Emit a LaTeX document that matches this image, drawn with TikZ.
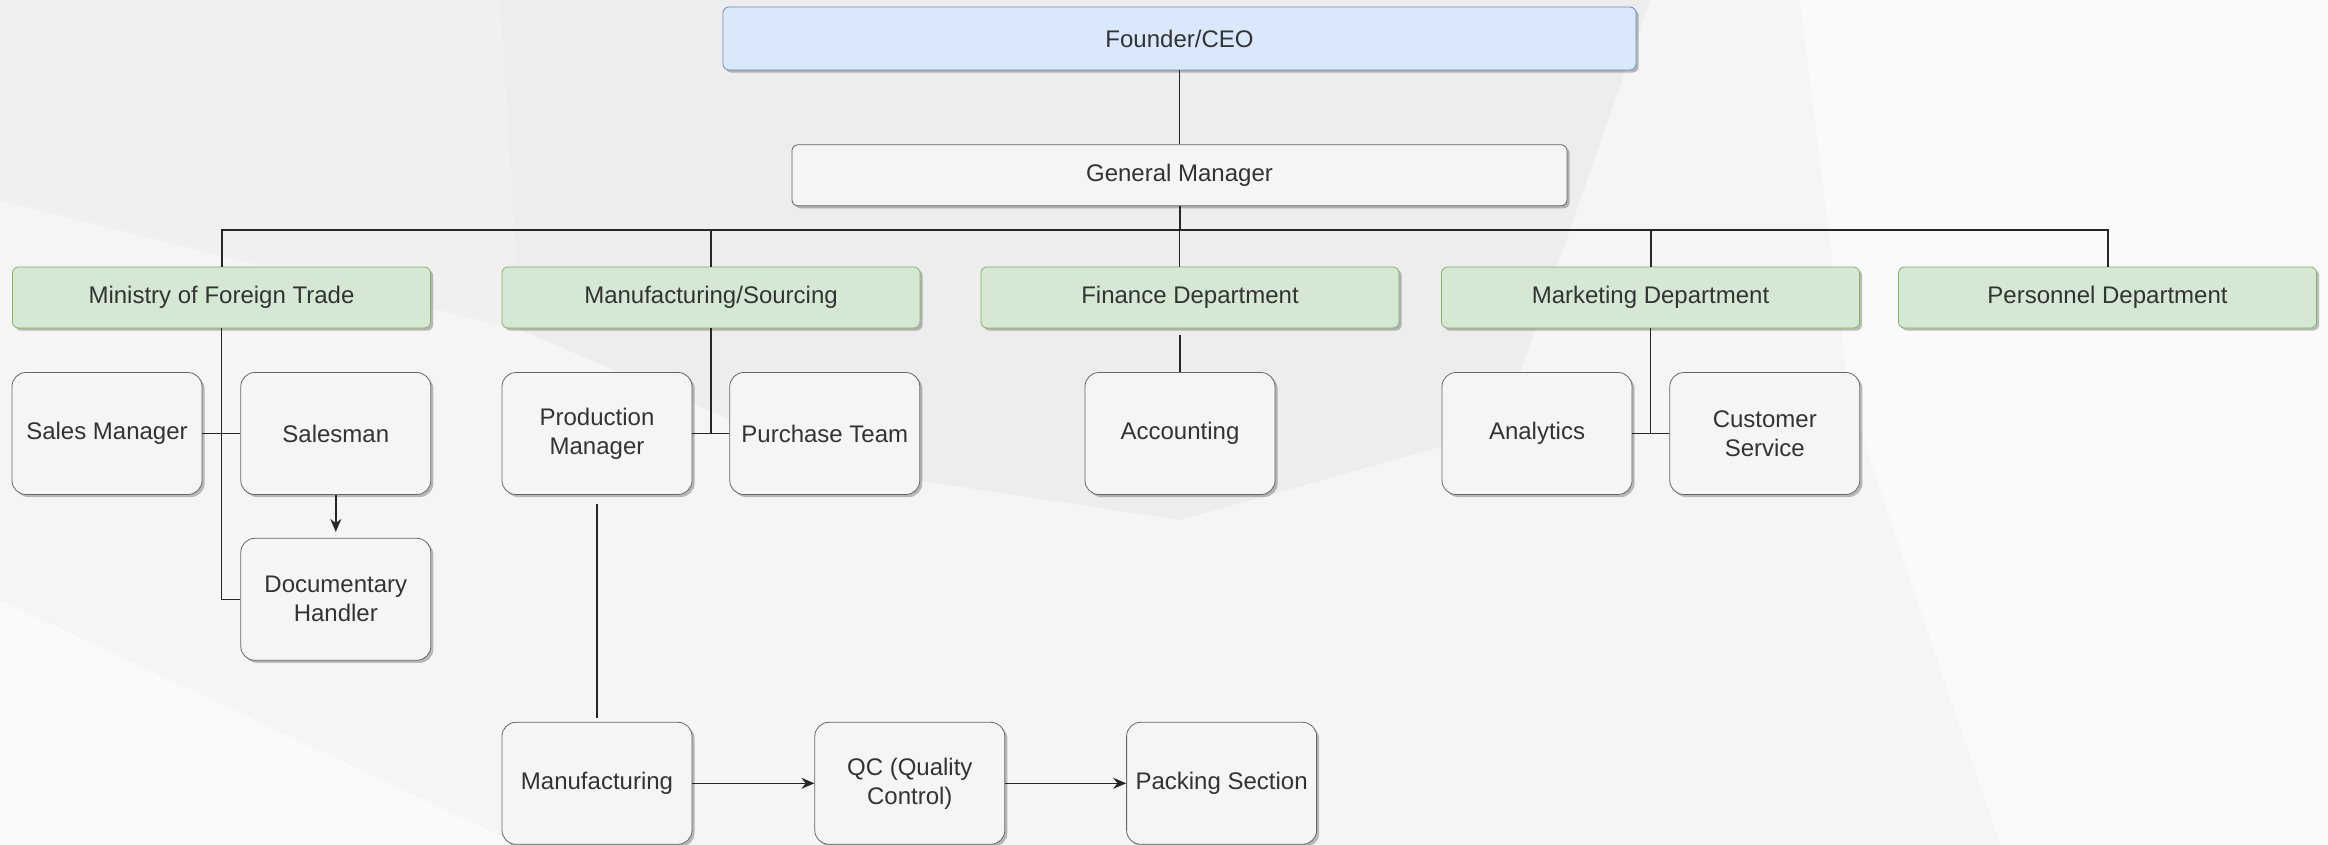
\documentclass[tikz,border=0pt]{standalone}
\usepackage{fontspec}
\setmainfont{Liberation Sans}
\usepackage{tikz}
\usetikzlibrary{arrows.meta, positioning, shadows}
\definecolor{ceoBlue}{RGB}{218, 232, 252}
\definecolor{ceoBlueLine}{RGB}{108, 142, 191}
\definecolor{deptGreen}{RGB}{213, 232, 212}
\definecolor{deptGreenLine}{RGB}{130, 179, 102}
\definecolor{unitGray}{RGB}{245, 245, 245}
\definecolor{unitGrayLine}{RGB}{102, 102, 102}

\begin{document}
\begin{tikzpicture}[
    x=0.5pt, y=-0.5pt,
    box/.style={
        rectangle,
        draw=#1Line,
        fill=#1,
        rounded corners=3pt,
        text=black!80,
        font=\fontsize{12}{14.5}\selectfont,
        align=center,
        inner sep=2pt,
        drop shadow={shadow xshift=1.3pt, shadow yshift=-1.3pt, fill=black, opacity=0.25}
    },
    head/.style={box=#1, minimum width=209pt, minimum height=30.5pt},
    unit/.style={box=unitGray, rounded corners=7pt, minimum width=95pt, minimum height=61pt},
    link/.style={draw=black!85, line width=0.7pt},
    flow/.style={link, -{Stealth[length=6.5pt, width=5.5pt]}}
]
    % background
    \fill[black!4] (0,0) rectangle (2328,845);
    \fill[black!7] (500,0) -- (1650,0) -- (1500,430) -- (1180,520) -- (850,470) -- (520,330) -- cycle;
    \fill[black!6] (0,0) -- (500,0) -- (520,330) -- (0,200) -- cycle;
    \fill[black!2] (1800,0) -- (2328,0) -- (2328,845) -- (2000,845) -- (1850,400) -- cycle;
    \fill[black!2] (0,600) -- (520,845) -- (0,845) -- cycle;
    \useasboundingbox (0,0) rectangle (2328,845);

    % Top: CEO and GM
    \node[box=ceoBlue, minimum width=456.5pt, minimum height=31.5pt] (ceo) at (1179.5,38.5) {Founder/CEO};
    \node[box=unitGray, minimum width=387.5pt, minimum height=30.5pt, below=37pt of ceo] (gm) {General Manager};

    % Departments
    \node[head=deptGreen] (mft) at (221.5,297.5) {Ministry of Foreign Trade};
    \node[head=deptGreen] (mfs) at (711,297.5) {Manufacturing/Sourcing};
    \node[head=deptGreen] (fin) at (1190,297.5) {Finance Department};
    \node[head=deptGreen] (mkt) at (1650.5,297.5) {Marketing Department};
    \node[head=deptGreen] (pers) at (2107.5,297.5) {Personnel Department};

    % Units
    \node[unit] (sales) at (107,433.5) {Sales Manager};
    \node[unit, right=19pt of sales] (salesman) {Salesman};
    \node[unit, below=21.5pt of salesman] (doc) {Documentary\\Handler};

    \node[unit] (pm) at (597,433.5) {Production\\Manager};
    \node[unit, right=18.5pt of pm] (purch) {Purchase Team};

    \node[unit] (acc) at (1180,433.5) {Accounting};

    \node[unit] (ana) at (1537,433.5) {Analytics};
    \node[unit, right=18.5pt of ana] (cs) {Customer\\Service};

    % Production line
    \node[unit, below=113.5pt of pm] (manuf) {Manufacturing};
    \node[unit, right=61pt of manuf] (qc) {QC (Quality\\Control)};
    \node[unit, right=60.5pt of qc] (pack) {Packing Section};

    % Connections
    \coordinate (bus) at ([yshift=-12pt]gm.south);
    \draw[link] (ceo) -- (gm);
    \draw[link, line width=1pt] (gm.south) -- (bus);
    \foreach \dept in {mft, mfs, mkt, pers} {
        \draw[link, line width=1pt] (bus) -| (\dept.north);
    }
    \draw[link] (bus) -- (bus |- fin.north);

    \draw[link] (mft.south) |- (doc.west);
    \draw[link] (sales) -- (salesman);
    \draw[flow, shorten >=3pt] (salesman) -- (doc);

    \draw[link] (mfs.south) -- (mfs.south |- purch.west);
    \draw[link] (pm) -- (purch);
    \draw[link, shorten <=4.5pt, shorten >=2pt] (pm) -- (manuf);

    \draw[link, shorten <=3.5pt] (fin.south -| acc.north) -- (acc.north);

    \draw[link] (mkt.south) -- (mkt.south |- cs.west);
    \draw[link] (ana) -- (cs);

    \draw[flow] (manuf) -- (qc);
    \draw[flow] (qc) -- (pack);

\end{tikzpicture}
\end{document}
